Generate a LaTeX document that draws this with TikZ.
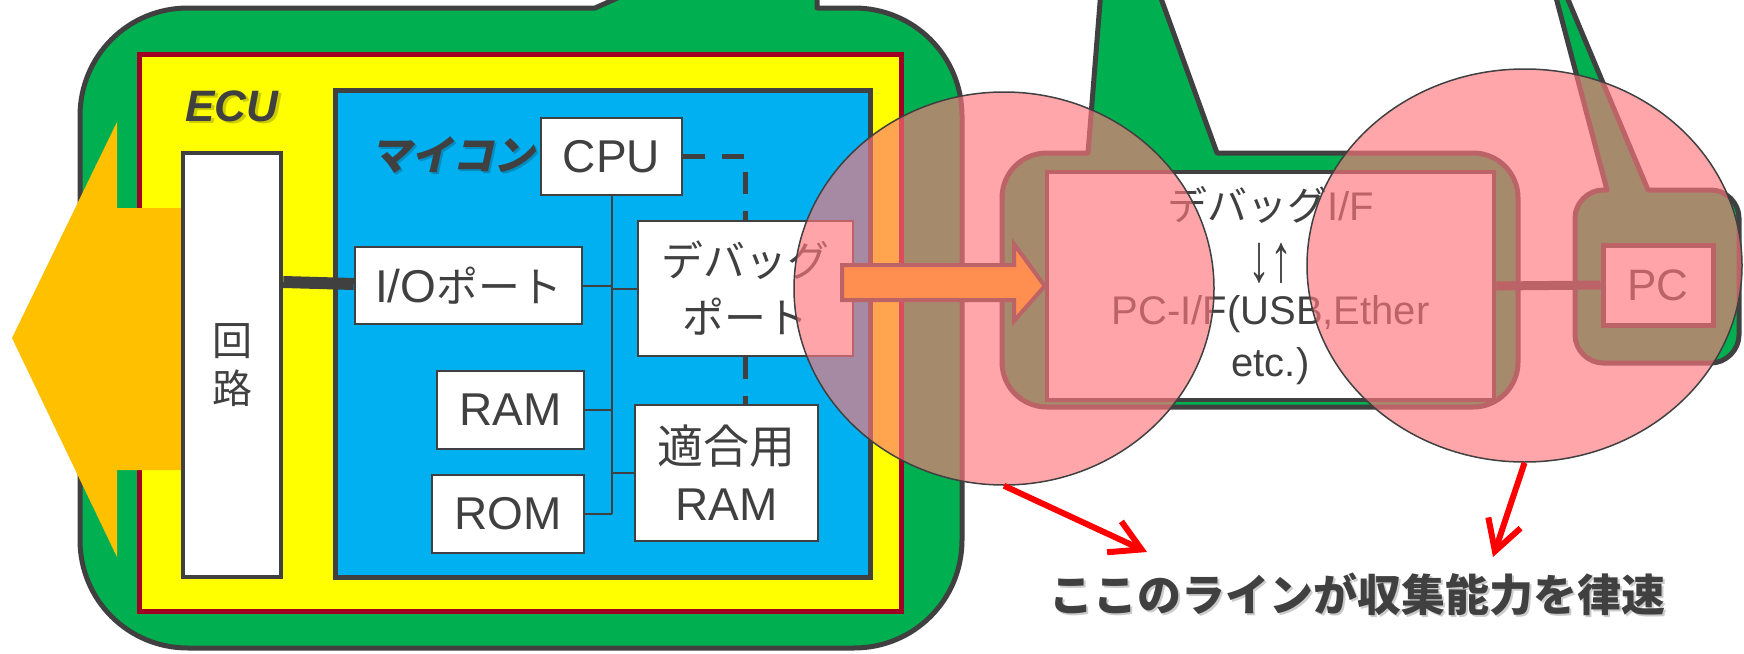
\documentclass[tikz,border=0pt]{standalone}
\usepackage{fontspec}
\setmainfont{Liberation Sans}
\newfontfamily\jp{Noto Sans CJK JP}
\newfontfamily\jpk{Noto Sans CJK JP}[Scale=0.91]
\newfontfamily\jpsl{Noto Sans CJK JP}[FakeSlant=0.22]
\usetikzlibrary{shapes.geometric,arrows.meta}

\definecolor{ecugreen}{RGB}{0,176,80}
\definecolor{dk}{RGB}{64,64,64}
\definecolor{ylw}{RGB}{255,255,0}
\definecolor{dred}{RGB}{160,0,33}
\definecolor{mcblue}{RGB}{0,176,240}
\definecolor{amber}{RGB}{255,192,0}
\definecolor{pinkc}{RGB}{255,118,124}

\begin{document}
\begin{tikzpicture}[x=1pt,y=-1pt,
  housing/.style={fill=ecugreen, draw=dk, line width=5pt, line join=round},
  wbox/.style={rectangle, draw=dk, fill=white, line width=2.5pt, inner sep=0pt,
    text=dk, align=center, font=\fontsize{46}{57}\selectfont},
  bus/.style={draw=dk, line width=2pt},
  dashline/.style={draw=dk, line width=4.5pt, dash pattern=on 22pt off 17pt},
  thickconn/.style={draw=dk, line width=9pt},
  spot/.style={ellipse, draw=dk, line width=1.5pt, fill=pinkc, fill opacity=0.65,
    draw opacity=1, inner sep=0pt},
  redarrow/.style={draw=red, line width=6pt, -{Straight Barb[length=30pt,width=34pt]}},
  label/.style={inner sep=0pt, text=dk},
  shadowtxt/.style={inner sep=0pt, text=black, text opacity=0.2},
]
\useasboundingbox (0,0) rectangle (1744,653);
\clip (0,0) rectangle (1744,653);

% ECU housing (callout with pointer going up)
\path[housing] (595,8) -- (631,-8) -- (817,-8) -- (817,8) -- (854,8)
  .. controls (914,8) and (962,56) .. (962,116) -- (962,540)
  .. controls (962,600) and (914,648) .. (854,648) -- (188,648)
  .. controls (128,648) and (80,600) .. (80,540) -- (80,116)
  .. controls (80,56) and (128,8) .. (188,8) -- cycle;

% ECU board
\draw[fill=ylw, draw=dred, line width=5pt] (139,54) rectangle (901,611);
\node[shadowtxt, font=\bfseries\itshape\fontsize{44}{44}\selectfont] (ecushadow) at (234.5,108.5) {ECU};
\node[label, font=\bfseries\itshape\fontsize{44}{44}\selectfont] (ecu) at (232,106) {ECU};

% microcontroller
\draw[fill=mcblue, draw=dk, line width=5pt] (335,90) rectangle (870,577);
\node[shadowtxt, font=\jpsl\bfseries\fontsize{41}{41}\selectfont] (mycomshadow) at (454.5,157.5) {マイコン};
\node[label, font=\jpsl\bfseries\fontsize{41}{41}\selectfont] (mycom) at (452,155) {マイコン};

% big outgoing arrow
\fill[amber] (12,338) -- (117,122) -- (117,208) -- (183,208) -- (183,470)
  -- (117,470) -- (117,557) -- cycle;

\node[wbox, line width=4.5pt, minimum width=98pt, minimum height=424pt,
  font=\jp\fontsize{40}{48}\selectfont] (kairo) at (232,365) {回\\路};

\node[wbox, minimum width=141pt, minimum height=77pt] (cpu) at (611.5,156.5) {CPU};
\node[wbox, minimum width=227pt, minimum height=77pt] (io) at (468.5,285.5) {I/O{\jpk ポート}};
\node[wbox, minimum width=215pt, minimum height=135pt] (dbg) at (745.5,288.5) {{\jpk デバッグ}\\{\jpk ポート}};
\node[wbox, minimum width=147pt, minimum height=78pt] (ram) at (510.5,410) {RAM};
\node[wbox, minimum width=152pt, minimum height=78pt] (rom) at (508,514) {ROM};
\node[wbox, minimum width=183pt, minimum height=136pt] (tek) at (726.5,473) {{\jp 適合用}\\RAM};

% connectors
\draw[thickconn, line width=12pt] ([yshift=3.5pt]kairo.east |- io.west) -- ([yshift=1.5pt]io.west);
\coordinate (busbot) at (cpu.south |- rom.east);
\draw[bus] (cpu.south) -- (busbot);
\draw[bus] (io.east) -- (io.east -| cpu.south);
\draw[bus] (dbg.west) -- (dbg.west -| cpu.south);
\draw[bus] (ram.east) -- (ram.east -| cpu.south);
\draw[bus] (tek.west) -- (tek.west -| cpu.south);
\draw[bus] (rom.east) -- (busbot);
\draw[dashline] (cpu.east) -- (cpu.east -| dbg.north) -- (dbg.north);
\draw[dashline] (dbg.south) -- (dbg.south |- tek.north);

% debug interface housing
\path[housing] (1088,153) -- (1101,-10) -- (1158,-10) -- (1217,153) -- (1473,153)
  .. controls (1498,153) and (1518,173) .. (1518,198) -- (1518,362)
  .. controls (1518,387) and (1498,407) .. (1473,407) -- (1047,407)
  .. controls (1022,407) and (1002,387) .. (1002,362) -- (1002,198)
  .. controls (1002,173) and (1022,153) .. (1047,153) -- cycle;
\node[wbox, line width=4.5pt, minimum width=447pt, minimum height=228pt,
  font=\fontsize{40}{52}\selectfont] (dbgif) at (1270.5,286)
  {{\jp デバッグ}I/F\\\smash{\raisebox{-9pt}{\scalebox{1.1}[1.7]{↓↑}}}\\PC-I/F(USB,Ether\\etc.)};

% PC housing
\path[housing] (1607,190) -- (1554,-10) -- (1564,-10) -- (1648,190) -- (1711,190)
  .. controls (1726,190) and (1739,203) .. (1739,218) -- (1739,335)
  .. controls (1739,350) and (1726,363) .. (1711,363) -- (1603,363)
  .. controls (1588,363) and (1575,350) .. (1575,335) -- (1575,218)
  .. controls (1575,203) and (1588,190) .. (1603,190) -- cycle;
\node[wbox, line width=5pt, minimum width=110pt, minimum height=80pt,
  font=\fontsize{44}{44}\selectfont] (pc) at (1658,285) {PC};
\draw[thickconn] (dbgif.east) -- (pc.west);

% data transfer arrow
\draw[fill=amber, draw=dk, line width=4pt, line join=miter]
  (842,265) -- (1014,265) -- (1014,244) -- (dbgif.west) -- (1014,321)
  -- (1014,300) -- (842,300) -- cycle;

% highlighted bottlenecks
\node[spot, minimum width=420pt, minimum height=393pt] (spotA) at (1004,288.5) {};
\node[spot, minimum width=435pt, minimum height=393pt] (spotB) at (1524.5,265.5) {};

\coordinate (tipA) at (1147,552);
\coordinate (tipB) at (1493,557);
\draw[redarrow] (spotA.south) -- (tipA);
\draw[redarrow] (spotB.south) -- (tipB);

\node[shadowtxt, font=\jp\bfseries\fontsize{44}{44}\selectfont] (capshadow) at (1359.5,596.5) {ここのラインが収集能力を律速};
\node[label, font=\jp\bfseries\fontsize{44}{44}\selectfont] (caption) at (1357,594) {ここのラインが収集能力を律速};
\end{tikzpicture}
\end{document}
